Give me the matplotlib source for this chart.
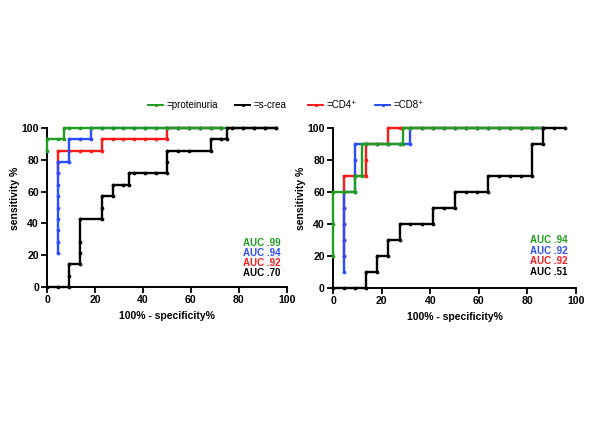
import matplotlib
matplotlib.use("Agg")
import matplotlib.pyplot as plt
from matplotlib.lines import Line2D

plt.rcParams['font.family'] = ['Liberation Sans', 'DejaVu Sans']

# ---------------- data ----------------
top22 = [9.1, 13.6, 18.2, 22.7, 27.3, 31.8, 36.4, 40.9, 45.5, 50, 54.5, 59.1,
         63.6, 68.2, 72.7, 77.3, 81.8, 86.4, 90.9, 95.5]

# Left panel
L_prot_x = [0, 0, 4.5, 6.8, 6.8] + top22
L_prot_y = [85.7, 92.9, 92.9, 92.9, 100] + [100] * len(top22)

L_crea_x = [0, 4.5, 9.1, 9.1, 9.1, 13.6, 13.6, 13.6, 13.6, 22.7, 22.7, 22.7, 27.3, 27.3,
            31.8, 34.1, 34.1, 36.4, 40.9, 45.5, 50, 50, 50, 54.5, 59.1, 68.2, 68.2, 72.7,
            75, 75, 77.3, 81.8, 86.4, 90.9, 95.5]
L_crea_y = [0, 0, 0, 7.1, 14.3, 14.3, 21.4, 28.6, 42.9, 42.9, 50, 57.1, 57.1, 64.3,
            64.3, 64.3, 71.4, 71.4, 71.4, 71.4, 71.4, 78.6, 85.7, 85.7, 85.7, 85.7, 92.9, 92.9,
            92.9, 100, 100, 100, 100, 100, 100]

L_cd4_x = [4.5, 4.5, 4.5, 9.1, 13.6, 18.2, 22.7, 22.7, 27.3, 31.8, 36.4, 40.9, 45.5, 50, 50,
           54.5, 59.1, 63.6, 68.2, 72.7]
L_cd4_y = [71.4, 78.6, 85.7, 85.7, 85.7, 85.7, 85.7, 92.9, 92.9, 92.9, 92.9, 92.9, 92.9, 92.9, 100,
           100, 100, 100, 100, 100]

L_cd8_x = [4.5] * 9 + [9.1, 9.1, 13.6, 18.2, 18.2, 22.7, 27.3, 31.8, 36.4, 40.9, 45.5, 50,
                       54.5, 59.1, 63.6, 68.2, 72.7]
L_cd8_y = [21.4, 28.6, 35.7, 42.9, 50, 57.1, 64.3, 71.4, 78.6] + [78.6, 92.9, 92.9, 92.9, 100,
                                                                   100, 100, 100, 100, 100, 100, 100,
                                                                   100, 100, 100, 100, 100]

# Right panel
R_prot_x = [0, 0, 0, 4.5, 9.1, 9.1, 11.8, 11.8, 13.6, 18.2, 22.7, 27.3, 28.6, 28.6,
            31.8, 36.4, 40.9, 45.5, 50, 54.5, 59.1, 63.6, 68.2, 72.7, 77.3, 81.8, 86.4]
R_prot_y = [20, 40, 60, 60, 60, 70, 70, 90, 90, 90, 90, 90, 90, 100,
            100, 100, 100, 100, 100, 100, 100, 100, 100, 100, 100, 100, 100]

R_crea_x = [0, 4.5, 9.1, 13.6, 13.6, 18.2, 18.2, 22.7, 22.7, 27.3, 27.3, 31.8, 36.4, 40.9, 40.9,
            45.5, 50, 50, 54.5, 59.1, 63.6, 63.6, 68.2, 72.7, 77.3, 81.8, 81.8, 86.4, 86.4, 90.9, 95.5]
R_crea_y = [0, 0, 0, 0, 10, 10, 20, 20, 30, 30, 40, 40, 40, 40, 50,
            50, 50, 60, 60, 60, 60, 70, 70, 70, 70, 70, 90, 90, 100, 100, 100]

R_cd4_x = [4.5] * 6 + [9.1, 13.6, 13.6, 13.6, 18.2, 22.7, 22.7, 27.3, 31.8, 36.4, 40.9, 45.5,
                       50, 54.5, 59.1, 63.6, 68.2, 72.7, 77.3, 81.8, 86.4]
R_cd4_y = [20, 30, 40, 50, 60, 70] + [70, 70, 80, 90, 90, 90, 100, 100, 100, 100, 100, 100,
                                      100, 100, 100, 100, 100, 100, 100, 100, 100]

R_cd8_x = [4.5] * 6 + [9.1] * 4 + [13.6, 18.2, 22.7, 27.3, 31.8, 31.8, 36.4, 40.9, 45.5, 50,
                                   54.5, 59.1, 63.6, 68.2, 72.7, 77.3, 81.8, 86.4]
R_cd8_y = [10, 20, 30, 40, 50, 60] + [60, 70, 80, 90] + [90, 90, 90, 90, 90, 100, 100, 100, 100,
                                                         100, 100, 100, 100, 100, 100, 100, 100, 100]

series_names = ["=proteinuria", "=s-crea", "=CD4\u207a", "=CD8\u207a"]
colors = {"prot": "#1f9e1f", "crea": "#000000", "cd4": "#ff1a1a", "cd8": "#2a4bff"}

L_auc_labels = ["AUC .99", "AUC .94", "AUC .92", "AUC .70"]
L_auc_colors = [colors["prot"], colors["cd8"], colors["cd4"], colors["crea"]]
R_auc_labels = ["AUC .94", "AUC .92", "AUC .92", "AUC .51"]
R_auc_colors = [colors["prot"], colors["cd8"], colors["cd4"], colors["crea"]]

ticks = [0, 20, 40, 60, 80, 100]

# ---------------- figure ----------------
fig = plt.figure(figsize=(6.0, 4.24), dpi=100)
axL = fig.add_axes([0.0789, 0.3231, 0.399, 0.375])
axR = fig.add_axes([0.5555, 0.3208, 0.4045, 0.378])

def draw(ax, data, auc_labels, auc_colors, auc_x, auc_y0, auc_dy):
    for key, (x, y), z in data:
        ax.plot(x, y, color=colors[key], lw=1.7, marker='o', ms=2.7, mew=0,
                clip_on=False, zorder=z)
    ax.set_xlim(0, 100)
    ax.set_ylim(0, 100)
    ax.set_xticks(ticks)
    ax.set_yticks(ticks)
    for s in ['top', 'right']:
        ax.spines[s].set_visible(False)
    for s in ['left', 'bottom']:
        ax.spines[s].set_linewidth(1.4)
    ax.tick_params(direction='out', length=4, width=1.3, labelsize=7.6, pad=2)
    for lab in ax.get_xticklabels() + ax.get_yticklabels():
        lab.set_fontweight('bold')
    ax.set_xlabel("100% - specificity%", fontsize=7.5, fontweight='bold', labelpad=4)
    ax.set_ylabel("sensitivity %", fontsize=7.5, fontweight='bold')
    ax.yaxis.set_label_coords(-0.114, 0.56)
    for i, (t, c) in enumerate(zip(auc_labels, auc_colors)):
        ax.text(auc_x, auc_y0 - i * auc_dy, t, color=c, fontsize=7, fontweight='bold',
                transform=ax.transAxes, va='center', ha='left')

draw(axL, [("cd4", (L_cd4_x, L_cd4_y), 3), ("cd8", (L_cd8_x, L_cd8_y), 4),
           ("prot", (L_prot_x, L_prot_y), 5), ("crea", (L_crea_x, L_crea_y), 6)],
     L_auc_labels, L_auc_colors, 0.817, 0.277, 0.063)
draw(axR, [("cd4", (R_cd4_x, R_cd4_y), 3), ("cd8", (R_cd8_x, R_cd8_y), 4),
           ("prot", (R_prot_x, R_prot_y), 5), ("crea", (R_crea_x, R_crea_y), 6)],
     R_auc_labels, R_auc_colors, 0.81, 0.30, 0.067)
axR.yaxis.set_label_coords(-0.112, 0.56)

# ---------------- legend ----------------
leg_keys = ["prot", "crea", "cd4", "cd8"]
leg_line_x = [148, 235, 308, 375]
leg_y = 1 - 105 / 424
for key, name, lx in zip(leg_keys, series_names, leg_line_x):
    fig.add_artist(Line2D([lx / 600, (lx + 15) / 600], [leg_y, leg_y], color=colors[key],
                          lw=1.4, transform=fig.transFigure))
    fig.add_artist(Line2D([(lx + 7.5) / 600], [leg_y], color=colors[key], marker='o', ms=2.4,
                          mew=0, transform=fig.transFigure))
    fig.text((lx + 19) / 600, leg_y, name, fontsize=7, va='center', ha='left',
             family=['Liberation Sans', 'DejaVu Sans'])

fig.savefig("out.png", dpi=100)
